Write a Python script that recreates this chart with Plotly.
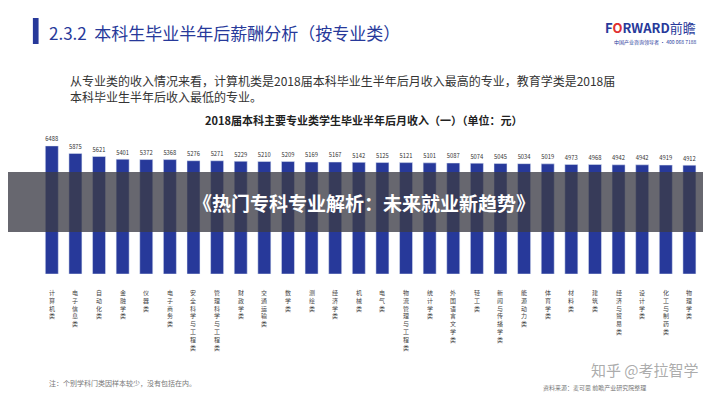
import plotly.graph_objects as go

categories = ["计算机类","电子信息类","自动化类","金融学类","仪器类","电子商务类","安全科学与工程类","管理科学与工程类","财政学类","交通运输类","数学类","测绘类","经济学类","机械类","电气类","物流管理与工程类","统计学类","外国语言文学类","轻工类","新闻与传播学类","能源动力类","体育学类","材料类","建筑类","经济与贸易类","设计学类","化工与制药类","物理学类"]
values = [6488,5875,5621,5401,5372,5368,5276,5271,5229,5210,5209,5169,5167,5142,5125,5121,5101,5087,5074,5045,5034,5019,4973,4968,4942,4942,4919,4912]

F = "Noto Sans CJK SC"
fig = go.Figure(go.Bar(
    x=categories, y=[v + 4000 for v in values], base=-4000, marker_color="#27399a", width=0.55,
    text=[str(v) for v in values], textposition="outside",
    textfont=dict(size=7, color="#333", family=F), cliponaxis=False))

labels_vert = ["<br>".join(list(c)) for c in categories]
fig.update_layout(
    width=711, height=400, margin=dict(l=0, r=0, t=0, b=0),
    paper_bgcolor="white", plot_bgcolor="white", showlegend=False,
    font=dict(family=F),
    xaxis=dict(domain=[0.045, 0.975], showticklabels=False, showline=False),
    yaxis=dict(domain=[0.335, 0.68], range=[-4000, 7300], visible=False),
    shapes=[
        dict(type="rect", xref="paper", yref="paper", x0=0.035, x1=0.043, y0=0.91, y1=0.975, fillcolor="#27399a", line_width=0),
        dict(type="rect", xref="paper", yref="paper", x0=0, x1=1, y0=0.44, y1=0.59, fillcolor="rgba(60,60,70,0.78)", line_width=0, layer="above"),
    ],
    annotations=[
        dict(text="2.3.2  本科生毕业半年后薪酬分析（按专业类）", x=0.055, y=0.975, xref="paper", yref="paper", xanchor="left", showarrow=False, font=dict(size=17, color="#27399a")),
        dict(text="<b>F<span style='color:#e03030'>O</span>RWARD</b>前瞻", x=0.97, y=0.98, xref="paper", yref="paper", xanchor="right", showarrow=False, font=dict(size=13, color="#27399a")),
        dict(text="中国产业咨询领导者 · 400 068 7188", x=0.97, y=0.93, xref="paper", yref="paper", xanchor="right", showarrow=False, font=dict(size=5, color="#27399a")),
        dict(text="从专业类的收入情况来看，计算机类是2018届本科毕业生半年后月收入最高的专业，教育学类是2018届<br>本科毕业生半年后收入最低的专业。", x=0.085, y=0.845, xref="paper", yref="paper", xanchor="left", align="left", showarrow=False, font=dict(size=12, color="#333")),
        dict(text="<b>2018届本科主要专业类学生毕业半年后月收入（一）（单位：元）</b>", x=0.5, y=0.745, xref="paper", yref="paper", showarrow=False, font=dict(size=11, color="#222")),
        dict(text="<b>《热门专科专业解析：未来就业新趋势》</b>", x=0.5, y=0.515, xref="paper", yref="paper", showarrow=False, font=dict(size=19, color="white")),
        dict(text="注：个别学科门类因样本较少，没有包括在内。", x=0.055, y=0.045, xref="paper", yref="paper", xanchor="left", showarrow=False, font=dict(size=7, color="#777")),
        dict(text="资料来源：麦可思 前瞻产业研究院整理", x=0.75, y=0.035, xref="paper", yref="paper", xanchor="left", showarrow=False, font=dict(size=6, color="#777")),
        dict(text="知乎 @考拉智学", x=0.975, y=0.065, xref="paper", yref="paper", xanchor="right", showarrow=False, font=dict(size=15, color="rgba(150,150,150,0.8)")),
    ],
)
for c, lv in zip(categories, labels_vert):
    fig.add_annotation(x=c, y=0.305, xref="x", yref="paper", yanchor="top", text=lv, showarrow=False, font=dict(size=6, color="#444"), align="center")
fig.write_html("out.html")
